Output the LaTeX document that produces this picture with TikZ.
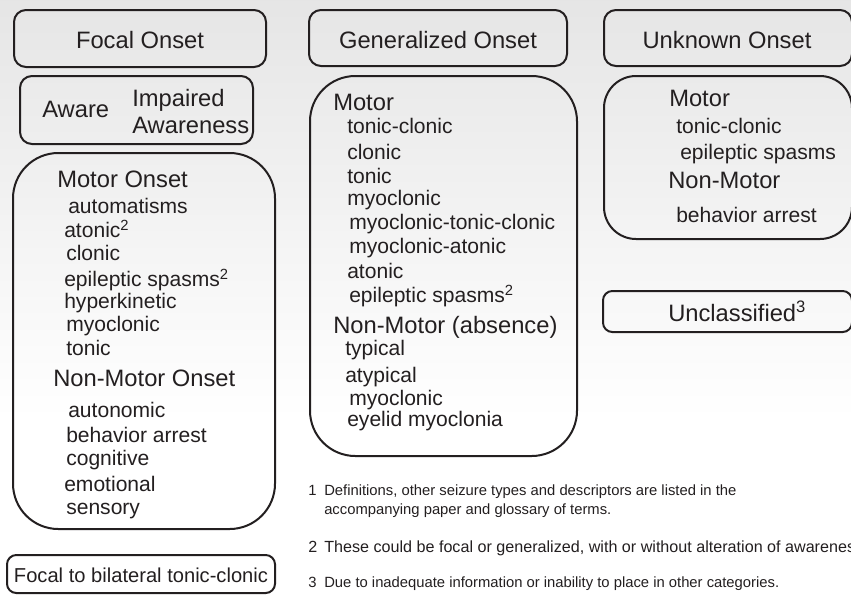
\documentclass[tikz,border=0pt]{standalone}
\usepackage{fontspec}
\setmainfont{Liberation Sans}
\definecolor{ink}{RGB}{35,31,32}
\tikzset{
  frame/.style={draw=ink, line width=1.5pt},
  head/.style={anchor=base west, inner sep=0pt, text=ink, font=\fontsize{17.8}{20}\selectfont},
  item/.style={anchor=base west, inner sep=0pt, text=ink, font=\fontsize{15.8}{18}\selectfont},
  note/.style={anchor=base west, inner sep=0pt, text=ink, font=\fontsize{11.1}{13}\selectfont}
}
\begin{document}
\begin{tikzpicture}[x=0.75pt, y=-0.75pt]
% page and the grey fade at the top
\clip (0,0) rectangle (851,594);
\fill[white] (0,0) rectangle (851,594);
\shade[top color=black!10, bottom color=white] (0,0) rectangle (851,420);

% focal column
\draw[frame, rounded corners=9pt] (14,10) rectangle (266,67);
\node[head, anchor=base] (focal) at (140,48) {Focal Onset};
\draw[frame, rounded corners=9pt] (20,76) rectangle (253,144);
\node[head] (aware) at (42,117) {Aware};
\node[head] (impaired) at (132,106) {Impaired};
\node[head] (awareness) at (132,133) {Awareness};

\draw[frame, rounded corners=34pt] (13,153) rectangle (275,529);
\node[head] (fmotor) at (57,187) {Motor Onset};
\node[item] (fm1) at (68,213) {automatisms};
\node[item] (fm2) at (64,237) {atonic\textsuperscript{2}};
\node[item] (fm3) at (66,260) {clonic};
\node[item] (fm4) at (64,286) {epileptic spasms\textsuperscript{2}};
\node[item] (fm5) at (64,308) {hyperkinetic};
\node[item] (fm6) at (66,331) {myoclonic};
\node[item] (fm7) at (66,355) {tonic};
\node[head] (fnonmotor) at (53,386) {Non-Motor Onset};
\node[item] (fn1) at (68,417) {autonomic};
\node[item] (fn2) at (66,442) {behavior arrest};
\node[item] (fn3) at (66,465) {cognitive};
\node[item] (fn4) at (64,491) {emotional};
\node[item] (fn5) at (66,514) {sensory};

\draw[frame, rounded corners=7pt] (7,555) rectangle (275,593);
\node[item, anchor=base, font=\fontsize{15.1}{18}\selectfont] (bilateral) at (141,582) {Focal to bilateral tonic-clonic};

% generalized column
\draw[frame, rounded corners=9pt] (309,10) rectangle (567,66);
\node[head, anchor=base] (general) at (438,48) {Generalized Onset};
\draw[frame, rounded corners=34pt] (310,76) rectangle (577,456);
\node[head] (gmotor) at (333,110) {Motor};
\node[item] (gm1) at (347,133) {tonic-clonic};
\node[item] (gm2) at (347,159) {clonic};
\node[item] (gm3) at (347,183) {tonic};
\node[item] (gm4) at (347,205) {myoclonic};
\node[item] (gm5) at (349,229) {myoclonic-tonic-clonic};
\node[item] (gm6) at (349,253) {myoclonic-atonic};
\node[item] (gm7) at (347,278) {atonic};
\node[item] (gm8) at (349,302) {epileptic spasms\textsuperscript{2}};
\node[head] (gnonmotor) at (333,333) {Non-Motor (absence)};
\node[item] (gn1) at (345,355) {typical};
\node[item] (gn2) at (345,382) {atypical};
\node[item] (gn3) at (349,405) {myoclonic};
\node[item] (gn4) at (347,426) {eyelid myoclonia};

% unknown column
\draw[frame, rounded corners=9pt] (604,10) rectangle (852,66);
\node[head, anchor=base] (unknown) at (727,48) {Unknown Onset};
\draw[frame, rounded corners=24pt] (604,76) rectangle (852,239);
\node[head] (umotor) at (669,106) {Motor};
\node[item] (um1) at (676,133) {tonic-clonic};
\node[item] (um2) at (680,159) {epileptic spasms};
\node[head] (unonmotor) at (668,188) {Non-Motor};
\node[item] (un1) at (676,222) {behavior arrest};

\draw[frame, rounded corners=7pt] (603,291) rectangle (852,332);
\node[head] (unclassified) at (668,321) {Unclassified\textsuperscript{3}};

% footnotes
\node[note] (n1) at (308,495) {1};
\node[note] (t1) at (324,495) {Definitions, other seizure types and descriptors are listed in the};
\node[note] (t1b) at (324,514) {accompanying paper and glossary of terms.};
\node[note, font=\fontsize{12.1}{14}\selectfont] (n2) at (308,552) {2};
\node[note, font=\fontsize{12.1}{14}\selectfont] (t2) at (324,552) {These could be focal or generalized, with or without alteration of awareness.};
\node[note] (n3) at (308,587) {3};
\node[note] (t3) at (324,587) {Due to inadequate information or inability to place in other categories.};
\end{tikzpicture}
\end{document}
